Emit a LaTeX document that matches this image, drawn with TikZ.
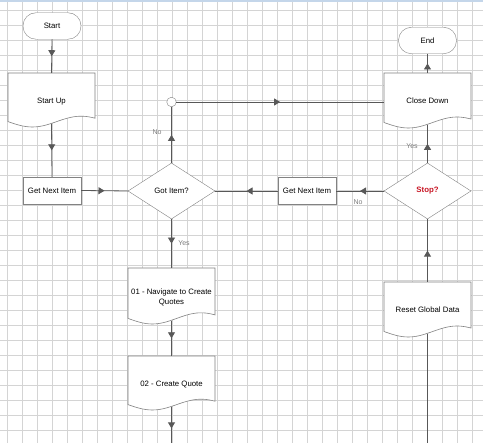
\documentclass[tikz,border=0pt]{standalone}
\usepackage{fontspec}
\setmainfont{Liberation Sans}
\usetikzlibrary{shapes.geometric,decorations.markings,arrows.meta,calc}
\definecolor{gridc}{RGB}{212,212,212}
\definecolor{edgec}{RGB}{88,88,88}
\definecolor{shapec}{RGB}{130,130,130}
\definecolor{labc}{RGB}{125,125,125}
\definecolor{stopred}{RGB}{200,20,35}
\definecolor{topbar}{RGB}{196,214,234}
\tikzset{
  txt/.style={font=\fontsize{7.8}{10}\selectfont, text=black},
  term/.style={txt, draw=shapec, fill=white, rounded corners=13pt, minimum width=58pt, minimum height=26.5pt, inner sep=0},
  procbox/.style={txt, draw=shapec, fill=white, minimum width=58pt, minimum height=27pt, inner sep=0},
  decide/.style={txt, diamond, draw=shapec, fill=white, minimum width=87pt, minimum height=56pt, inner sep=0},
  joint/.style={circle, draw=shapec, fill=white, minimum size=9.5pt, inner sep=0},
  lab/.style={font=\fontsize{7}{8}\selectfont, text=labc, inner sep=0},
  conn/.style={draw=edgec, line width=0.8pt, postaction={decorate},
    decoration={markings, mark=at position 0.5 with {\arrow{Triangle[width=7pt,length=6pt]}}}},
  plainconn/.style={draw=edgec, line width=0.8pt},
}
\newcommand\docnode[6]{%
  \filldraw[draw=shapec, fill=white, line width=0.6pt] ({#2-#4/2},#3) -- ({#2+#4/2},#3) --
    plot[smooth, domain=1:0, samples=30, variable=\t] ({#2-#4/2+\t*#4},{#3+#5*(0.9+0.1*sin(\t*180/0.56))}) -- cycle;
  \node[txt, inner sep=0, minimum width=#4, minimum height={0.933*#5}, anchor=north] (#1) at (#2,#3)
    {\raisebox{-3pt}[\height][\depth]{\begin{tabular}{@{}c@{}}#6\end{tabular}}};}
\begin{document}
\begin{tikzpicture}[x=1pt,y=-1pt]
\useasboundingbox (0,0) rectangle (483,443);
\clip (0,0) rectangle (483,443);
\fill[white] (0,0) rectangle (483,443);
% grid
\foreach \gx in {7.5,22.5,...,482} {\draw[gridc, line width=0.6pt] (\gx,0) -- (\gx,443);}
\foreach \gy in {10,25,...,442} {\draw[gridc, line width=0.6pt] (0,\gy) -- (483,\gy);}
\fill[topbar] (0,0) rectangle (483,2.5);
% nodes
\node[term] (start) at (52,26) {Start};
\docnode{startup}{51.5}{73}{87}{54}{Start Up}
\node[procbox] (gni1) at (52,190.5) {Get Next Item};
\node[decide] (got) at (171.5,191) {Got Item?};
\node[joint] (jn) at (171.5,102) {};
\node[term] (end) at (427.5,40.5) {End};
\docnode{close}{427.5}{73}{87}{55}{Close Down}
\node[decide, font=\fontsize{7.8}{10}\selectfont\bfseries, text=stopred] (stop) at (427.5,191) {Stop?};
\node[procbox] (gni2) at (307,191) {Get Next Item};
\docnode{nav}{171.5}{268}{87}{56}{01 - Navigate to Create\\Quotes}
\docnode{cq}{171.5}{356}{87}{54}{02 - Create Quote}
\docnode{reset}{427.5}{282}{87}{55}{Reset Global Data}
\coordinate (botL) at (171.5,450);
\coordinate (botR) at (427.5,450);
% connectors
\draw[conn] (start.south) -- (startup.north);
\draw[conn] (startup.south) -- (gni1.north);
\draw[conn] (gni1.east) -- (got.west);
\draw[conn] (got.north) -- (jn.south);
\draw[conn] (jn.east) -- (jn.east -| close.west);
\draw[conn] (close.north) -- (end.south);
\draw[conn] (stop.north) -- (close.south);
\draw[conn] (stop.west) -- (gni2.east);
\draw[conn] (gni2.west) -- (got.east);
\draw[conn] (got.south) -- (nav.north);
\draw[conn] (nav.south) -- (cq.north);
\draw[conn] (cq.south) -- (botL);
\draw[conn] (reset.north) -- (stop.south);
\draw[plainconn] (botR) -- (reset.south);
% labels
\node[lab] (lno1) at (157,132.5) {No};
\node[lab] (lyes1) at (184,243) {Yes};
\node[lab] (lyes2) at (412,146) {Yes};
\node[lab] (lno2) at (358,202) {No};
\end{tikzpicture}
\end{document}
